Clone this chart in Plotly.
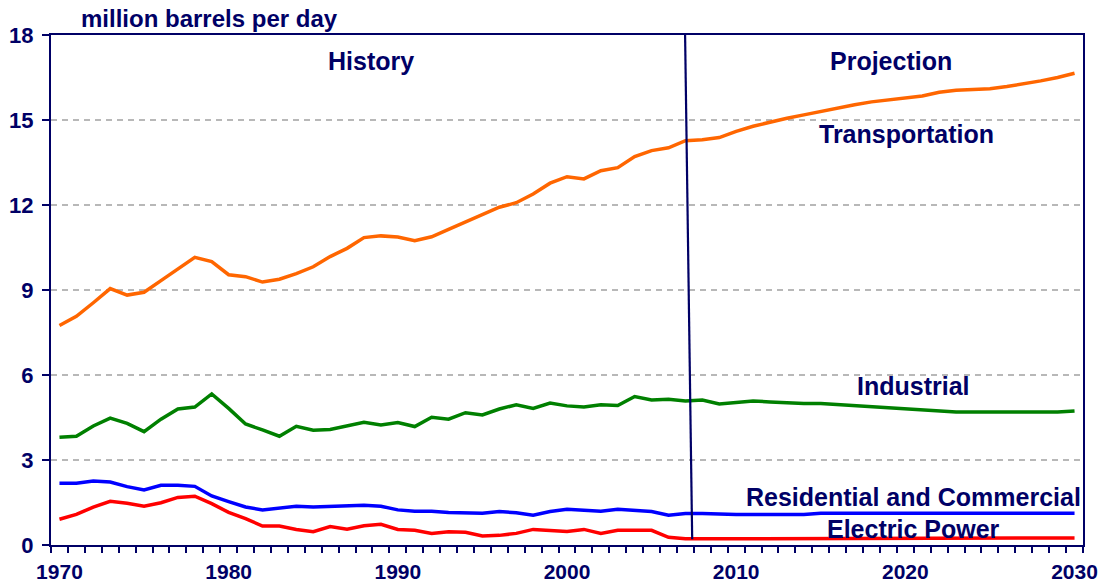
import plotly.graph_objects as go

years = list(range(1970, 2031))

transportation = [
    7.75, 8.07, 8.55, 9.05, 8.82, 8.92, 9.33, 9.74, 10.15, 10.00,
    9.54, 9.47, 9.28, 9.38, 9.58, 9.82, 10.18, 10.47, 10.85, 10.91,
    10.87, 10.74, 10.88, 11.14, 11.41, 11.67, 11.92, 12.08, 12.39, 12.77,
    13.00, 12.92, 13.21, 13.32, 13.71, 13.92, 14.02, 14.27, 14.30, 14.38,
    14.60, 14.78, 14.93, 15.06, 15.18, 15.30, 15.45, 15.54, 15.64, 15.71,
    15.77, 15.85, 15.98, 16.05, 16.08, 16.10, 16.18, 16.27, 16.38, 16.50,
    16.65,
]

industrial = [
    3.80, 3.84, 4.20, 4.48, 4.29, 4.00, 4.44, 4.80, 4.87, 5.33,
    4.82, 4.27, 4.06, 3.84, 4.19, 4.05, 4.08, 4.20, 4.33, 4.24,
    4.32, 4.18, 4.51, 4.44, 4.67, 4.59, 4.80, 4.95, 4.82, 5.01,
    4.91, 4.87, 4.95, 4.92, 5.24, 5.12, 5.14, 5.08, 5.12, 4.98,
    5.04, 5.08, 5.05, 5.01, 4.99, 4.99, 4.95, 4.92, 4.88, 4.85,
    4.80, 4.74, 4.73, 4.69, 4.69, 4.69, 4.69, 4.69, 4.69, 4.69,
    4.73,
]

residential_commercial = [
    2.18, 2.18, 2.26, 2.22, 2.06, 1.94, 2.11, 2.11, 2.07, 1.73,
    1.53, 1.34, 1.24, 1.31, 1.37, 1.34, 1.37, 1.39, 1.40, 1.37,
    1.24, 1.19, 1.19, 1.15, 1.15, 1.12, 1.18, 1.14, 1.05, 1.18,
    1.26, 1.22, 1.19, 1.26, 1.22, 1.18, 1.05, 1.11, 1.11, 1.08,
    1.08, 1.08, 1.08, 1.08, 1.08, 1.12, 1.12, 1.12, 1.12, 1.12,
    1.12, 1.12, 1.12, 1.12, 1.12, 1.12, 1.12, 1.12, 1.12, 1.12,
    1.12,
]

electric_power = [
    0.91, 1.08, 1.34, 1.54, 1.47, 1.37, 1.49, 1.68, 1.72, 1.46,
    1.15, 0.93, 0.67, 0.67, 0.55, 0.47, 0.65, 0.56, 0.68, 0.73,
    0.55, 0.52, 0.41, 0.47, 0.45, 0.32, 0.34, 0.41, 0.55, 0.52,
    0.48, 0.55, 0.41, 0.52, 0.52, 0.52, 0.27, 0.22, 0.22, 0.22,
    0.22, 0.22, 0.22, 0.22, 0.22, 0.22, 0.22, 0.22, 0.22, 0.22,
    0.22, 0.22, 0.25, 0.25, 0.25, 0.25, 0.25, 0.25, 0.25, 0.25,
    0.25,
]

series_names = ["Transportation", "Industrial", "Residential and Commercial", "Electric Power"]
series_colors = ["#FF6600", "#008000", "#0000FF", "#FF0000"]
series_values = [transportation, industrial, residential_commercial, electric_power]

x_tick_labels = [1970, 1980, 1990, 2000, 2010, 2020, 2030]
y_tick_labels = [0, 3, 6, 9, 12, 15, 18]

NAVY = "#000066"
FONT = "Arial, Liberation Sans, sans-serif"

fig = go.Figure()
for name, color, vals in zip(series_names, series_colors, series_values):
    fig.add_trace(go.Scatter(x=years, y=vals, mode="lines", name=name,
                             line=dict(color=color, width=3.5),
                             showlegend=False, hoverinfo="x+y+name"))

# History / Projection divider
fig.add_shape(type="line", xref="x", yref="y", x0=2006.98, y0=18.0, x1=2007.4, y1=0.2,
              line=dict(color=NAVY, width=2.2), layer="above")

labels = [
    ("History", 1988.4, 17.1),
    ("Projection", 2019.15, 17.1),
    ("Transportation", 2020.05, 14.5),
    ("Industrial", 2020.5, 5.62),
    ("Residential and Commercial", 2020.5, 1.69),
    ("Electric Power", 2020.5, 0.56),
]
for text, x, y in labels:
    fig.add_annotation(x=x, y=y, xref="x", yref="y", text=text, showarrow=False,
                       font=dict(family=FONT, size=25, color=NAVY, weight="bold"),
                       xanchor="center", yanchor="middle")

fig.add_annotation(x=0.154, y=1.033, xref="paper", yref="paper",
                   text="million barrels per day", showarrow=False,
                   font=dict(family=FONT, size=24, color=NAVY, weight="bold"),
                   xanchor="center", yanchor="middle")

fig.update_layout(
    width=1107, height=586,
    margin=dict(l=51, r=24, t=35, b=41, autoexpand=False),
    paper_bgcolor="white", plot_bgcolor="white",
    font=dict(family=FONT, color=NAVY),
    xaxis=dict(
        range=[1969.5, 2030.5], tickmode="array", tickvals=x_tick_labels,
        ticktext=[str(v) for v in x_tick_labels],
        ticks="", showgrid=False, zeroline=False, automargin=False,
        showline=True, linecolor=NAVY, linewidth=2, mirror=True,
        tickfont=dict(family=FONT, size=21, color=NAVY, weight="bold"),
        ticklabelstandoff=7,
        minor=dict(ticks="outside", tick0=1969.5, dtick=1, ticklen=6,
                   tickcolor=NAVY, tickwidth=1.5, showgrid=False),
    ),
    yaxis=dict(
        range=[0, 18], tickmode="array", tickvals=y_tick_labels,
        ticks="outside", ticklen=7, tickcolor=NAVY, tickwidth=1.5,
        showgrid=True, gridcolor="#B8B8B8", gridwidth=2, griddash="6px,5px",
        zeroline=False, showline=True, linecolor=NAVY, linewidth=2, mirror=True,
        automargin=False, ticklabelstandoff=4,
        tickfont=dict(family=FONT, size=22, color=NAVY, weight="bold"),
    ),
)

fig.write_html("out.html", config={"displayModeBar": False},
               post_script="document.body.style.margin='0px';document.body.style.overflow='hidden';")
